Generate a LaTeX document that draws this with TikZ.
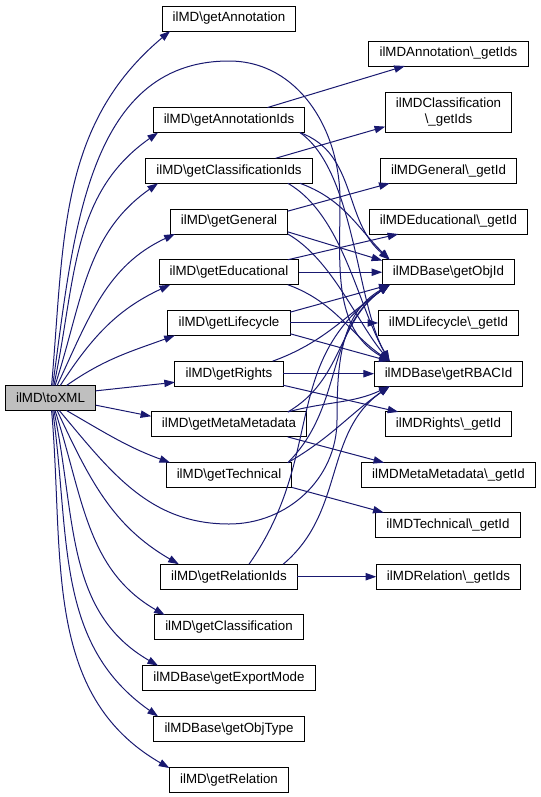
\documentclass[tikz,border=0pt]{standalone}
\usepackage{fontspec}
\setmainfont{Liberation Sans}
\usetikzlibrary{arrows.meta,positioning}
\definecolor{edgeblue}{RGB}{25,25,112}
\definecolor{rootgray}{RGB}{191,191,191}
\newcommand{\bsl}{\textbackslash}

\begin{document}
\begin{tikzpicture}[
  x=0.75pt, y=0.75pt,
  font=\fontsize{10}{12}\selectfont,
  fn/.style={draw=black, fill=white, line width=0.75pt, outer sep=0pt, inner xsep=8pt, minimum height=18.75pt},
  root/.style={fn, fill=rootgray},
  arr/.style={-{Triangle[length=8pt,width=5.5pt]}, draw=edgeblue, line width=0.75pt}
]
\useasboundingbox (0,0) rectangle (540,-797);
\node[root] (toxml) at (50.5,-398) {ilMD\bsl toXML};
\node[fn] (annot) at (229,-18.5) {ilMD\bsl getAnnotation};
\node[fn, below=57.4pt of annot] (annotids) {ilMD\bsl getAnnotationIds};
\node[fn, below=19.3pt of annotids] (classids) {ilMD\bsl getClassificationIds};
\node[fn, below=19.3pt of classids] (general) {ilMD\bsl getGeneral};
\node[fn, below=19.3pt of general] (educ) {ilMD\bsl getEducational};
\node[fn, below=19.3pt of educ] (life) {ilMD\bsl getLifecycle};
\node[fn, below=19.3pt of life] (rights) {ilMD\bsl getRights};
\node[fn, below=19.3pt of rights] (meta) {ilMD\bsl getMetaMetadata};
\node[fn, below=19.3pt of meta] (tech) {ilMD\bsl getTechnical};
\node[fn, below=57.4pt of tech] (relids) {ilMD\bsl getRelationIds};
\node[fn, below=19.3pt of relids] (classif) {ilMD\bsl getClassification};
\node[fn, below=19.3pt of classif] (export) {ilMDBase\bsl getExportMode};
\node[fn, below=19.3pt of export] (objtype) {ilMDBase\bsl getObjType};
\node[fn, below=19.3pt of objtype] (relation) {ilMD\bsl getRelation};
% right column
\coordinate (rcol) at (448.5,0);
\node[fn] (annotgi) at (448.5,-53.5) {ilMDAnnotation\bsl\_getIds};
\node[fn, align=center, minimum height=30pt] (classgi) at (448.5,-112) {ilMDClassification\\\bsl\_getIds};
\node[fn] (gengi) at (rcol |- classids) {ilMDGeneral\bsl\_getId};
\node[fn] (educgi) at (rcol |- general) {ilMDEducational\bsl\_getId};
\node[fn] (objid) at (rcol |- educ) {ilMDBase\bsl getObjId};
\node[fn] (lifegi) at (rcol |- life) {ilMDLifecycle\bsl\_getId};
\node[fn] (rbac) at (rcol |- rights) {ilMDBase\bsl getRBACId};
\node[fn] (rightsgi) at (rcol |- meta) {ilMDRights\bsl\_getId};
\node[fn] (metagi) at (rcol |- tech) {ilMDMetaMetadata\bsl\_getId};
\node[fn] (techgi) at (448,-525) {ilMDTechnical\bsl\_getId};
\node[fn] (relgi) at (rcol |- relids) {ilMDRelation\bsl\_getIds};
% calls from toXML
\draw[arr] (toxml.85) to[out=85,in=220] (annot.192);
\draw[arr] (toxml.75) to[out=78,in=215] (annotids.190);
\draw[arr] (toxml.70) to[out=72,in=215] (classids.190);
\draw[arr] (toxml.62) to[out=65,in=205] (general.193);
\draw[arr] (toxml.52) to[out=57,in=205] (educ.192);
\draw[arr] (toxml.38) to[out=35,in=200] (life.193);
\draw[arr] (toxml.9) -- (rights.189);
\draw[arr] (toxml.-9) -- (meta.174);
\draw[arr] (toxml.-38) to[out=-30,in=160] (tech.168);
\draw[arr] (toxml.-62) to[out=-65,in=150] (relids.166);
\draw[arr] (toxml.-70) to[out=-72,in=150] (classif.169);
\draw[arr] (toxml.-75) to[out=-78,in=150] (export.170);
\draw[arr] (toxml.-80) to[out=-82,in=145] (objtype.170);
\draw[arr] (toxml.-85) to[out=-85,in=150] (relation.169);
\draw[arr] (toxml.80) to[out=82,in=180] (229,-61) to[out=0,in=90] (340,-200) to[out=-90,in=150] (rbac.168);
\draw[arr] (toxml.-55) to[out=-50,in=180] (229,-524) to[out=0,in=-90] (337,-420) to[out=90,in=210] (objid.192);
% calls into the right column
\draw[arr] (annotids.18) -- (annotgi.196);
\draw[arr] (annotids.-10) to[out=-20,in=140] (objid.168);
\draw[arr] (annotids.-10) to[out=-35,in=120,looseness=0.7] (rbac.168);
\draw[arr] (classids.15) -- (classgi.193);
\draw[arr] (classids.-10) to[out=-20,in=135] (objid.168);
\draw[arr] (classids.-12) to[out=-30,in=120,looseness=0.8] (rbac.168);
\draw[arr] (general.10) -- (gengi.192);
\draw[arr] (general.-10) -- (objid.170);
\draw[arr] (general.-12) to[out=-30,in=130,looseness=0.8] (rbac.168);
\draw[arr] (educ) -- (objid);
\draw[arr] (educ.12) -- (educgi.194);
\draw[arr] (educ.-12) to[out=-20,in=145] (rbac.168);
\draw[arr] (life) -- (lifegi);
\draw[arr] (life.10) -- (objid.192);
\draw[arr] (life.-10) -- (rbac.168);
\draw[arr] (rights) -- (rbac);
\draw[arr] (rights.16) to[out=20,in=215] (objid.192);
\draw[arr] (rights.-12) -- (rightsgi.166);
\draw[arr] (meta.-12) -- (metagi.169);
\draw[arr] (meta.12) to[out=30,in=215] (objid.192);
\draw[arr] (meta.12) to[out=15,in=205] (rbac.192);
\draw[arr] (tech.-11) -- (techgi.169);
\draw[arr] (tech.12) to[out=45,in=215] (objid.192);
\draw[arr] (tech.12) to[out=30,in=215] (rbac.192);
\draw[arr] (relids) -- (relgi);
\draw[arr] (relids.32) to[out=55,in=215,looseness=1.1] (objid.192);
\draw[arr] (relids.13) to[out=40,in=215] (rbac.192);
\end{tikzpicture}
\end{document}
